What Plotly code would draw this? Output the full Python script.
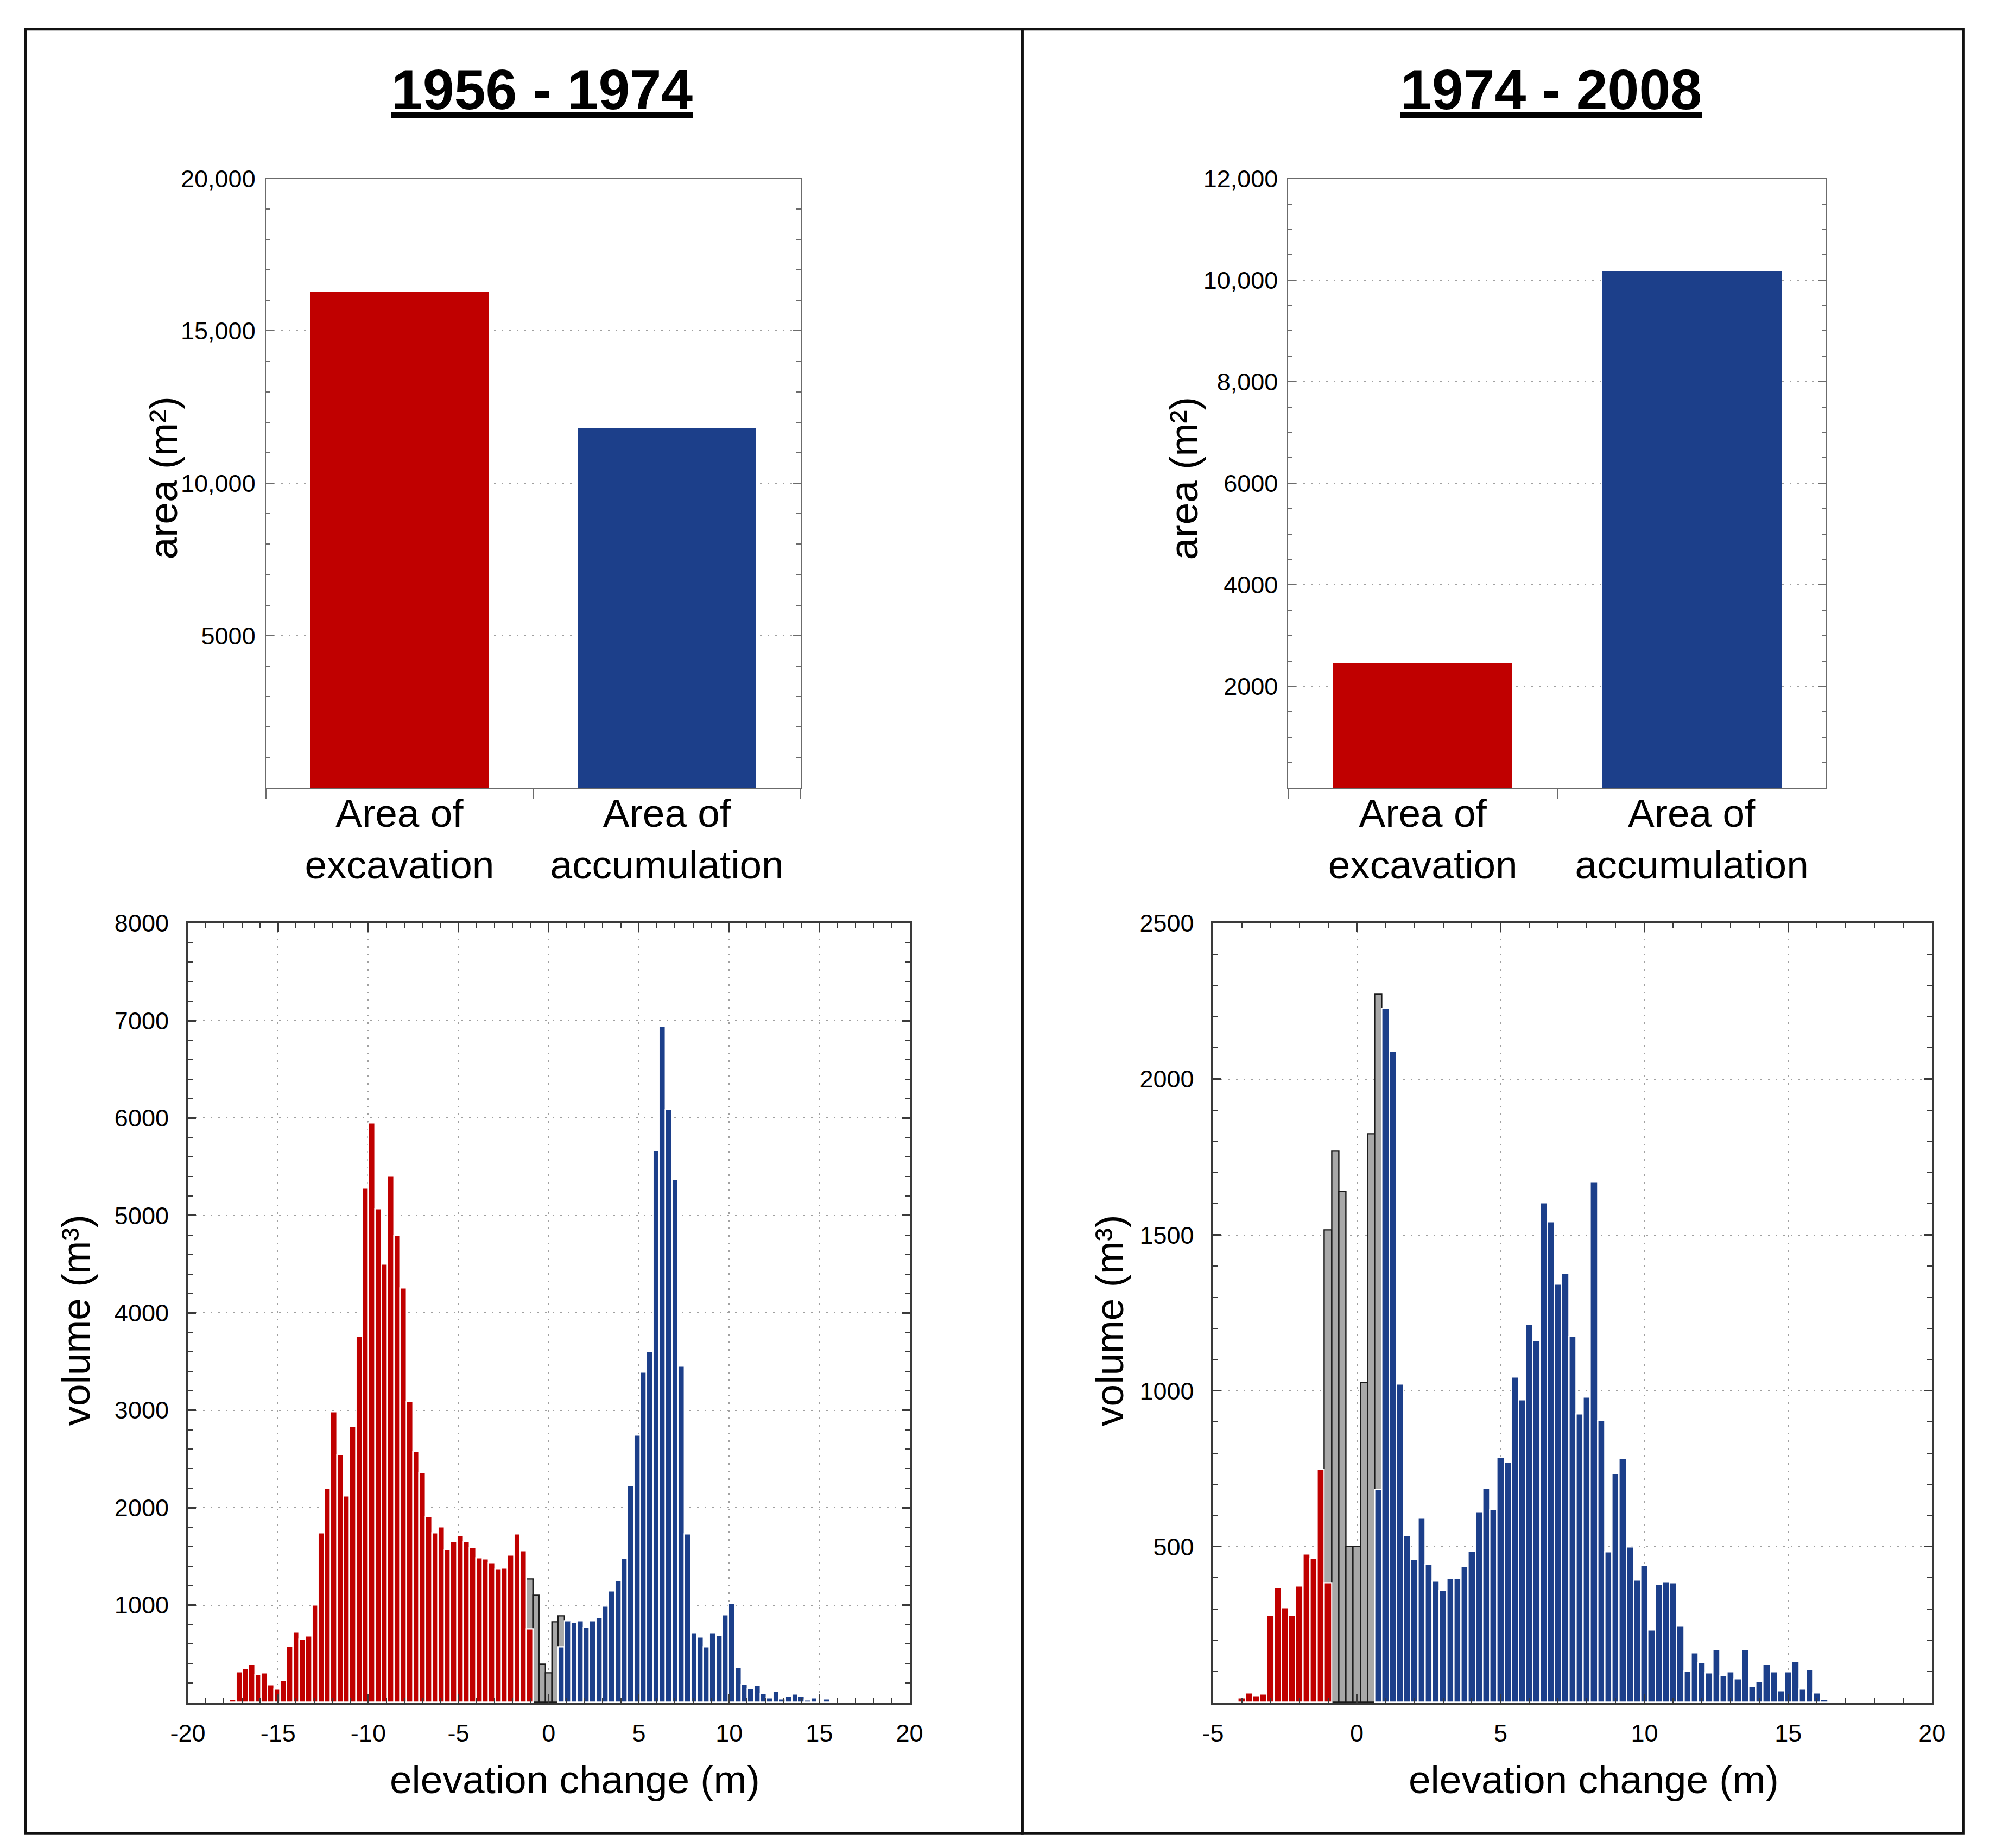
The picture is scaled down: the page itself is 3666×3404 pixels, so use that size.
import plotly.graph_objects as go

W, H = 3666, 3404

# ---- data ----
periods = ["1956 - 1974", "1974 - 2008"]
area_labels = ["Area of<br>excavation", "Area of<br>accumulation"]
area_5674 = [16300, 11800]
area_7408 = [2450, 10170]

# 1956-1974 volume histogram, bins of 0.35 m (first bar centre given)
bin_width_5674 = 0.35
red_start_5674 = -17.5
red_vol_5674 = [30, 315, 349, 391, 286, 303, 181, 134, 227, 576, 723, 651, 681, 1000,
                1739, 2197, 2983, 2546, 2118, 2832, 3761, 5282, 5950, 5071, 4500, 5403,
                4794, 4256, 3088, 2576, 2361, 1908, 1739, 1803, 1571, 1651, 1714, 1651,
                1592, 1487, 1471, 1437, 1366, 1378, 1513, 1731, 1555, 756]
gray_start_5674 = -1.05
gray_vol_5674 = [1269, 1100, 390, 305, 825, 890]
blue_start_5674 = 0.7
blue_vol_5674 = [573, 840, 822, 840, 770, 840, 873, 990, 1145, 1249, 1479, 2225, 2742,
                 3390, 3601, 5667, 6939, 6089, 5371, 3451, 1732, 718, 671, 573, 718, 690,
                 901, 1019, 357, 188, 141, 174, 94, 47, 113, 38, 66, 85, 66, 23, 47, 0, 33]

# 1974-2008 volume histogram, bins of 0.25 m
bin_width_7408 = 0.25
red_start_7408 = -4.0
red_vol_7408 = [15, 30, 21, 27, 279, 369, 303, 279, 373, 477, 462, 748, 383]
gray_start_7408 = -1.0
gray_vol_7408 = [1516, 1768, 1640, 500, 500, 1026, 1824, 2271]
blue_start_7408 = 0.75
blue_vol_7408 = [683, 2227, 2089, 1021, 535, 459, 591, 443, 389, 360, 398, 398, 436, 485,
                 611, 687, 619, 786, 771, 1044, 971, 1213, 1161, 1603, 1542, 1341, 1376,
                 1175, 925, 980, 1670, 905, 483, 734, 782, 498, 393, 440, 232, 379, 388,
                 383, 246, 100, 160, 128, 95, 170, 86, 99, 76, 170, 52, 67, 122, 99, 38,
                 99, 131, 43, 105, 30, 10]

area_ticks_5674 = [5000, 10000, 15000, 20000]
area_ticktext_5674 = ["5000", "10,000", "15,000", "20,000"]
area_ticks_7408 = [2000, 4000, 6000, 8000, 10000, 12000]
area_ticktext_7408 = ["2000", "4000", "6000", "8,000", "10,000", "12,000"]
vol_ticks_5674 = [1000, 2000, 3000, 4000, 5000, 6000, 7000, 8000]
vol_ticks_7408 = [500, 1000, 1500, 2000, 2500]
elev_ticks_5674 = [-20, -15, -10, -5, 0, 5, 10, 15, 20]
elev_ticks_7408 = [-5, 0, 5, 10, 15, 20]

RED = "#C00000"
BLUE = "#1C3F8A"
GRAY = "#A8A8A8"
FONT = "Liberation Sans, Arial, sans-serif"


def fx(p):
    return p / W


def fy(p):
    return 1 - p / H


fig = go.Figure()

# top bar charts
fig.add_trace(go.Bar(x=area_labels, y=area_5674, marker_color=[RED, BLUE],
                     marker_line_width=0, width=0.667, xaxis="x", yaxis="y"))
fig.add_trace(go.Bar(x=area_labels, y=area_7408, marker_color=[RED, BLUE],
                     marker_line_width=0, width=0.667, xaxis="x2", yaxis="y2"))

# histograms: grey (below detection limit) drawn first, red/blue on top
for ax, dx, series in [
    ("3", bin_width_5674, [(gray_start_5674, gray_vol_5674, GRAY, "#1a1a1a"),
                           (red_start_5674, red_vol_5674, RED, "white"),
                           (blue_start_5674, blue_vol_5674, BLUE, "white")]),
    ("4", bin_width_7408, [(gray_start_7408, gray_vol_7408, GRAY, "#1a1a1a"),
                           (red_start_7408, red_vol_7408, RED, "white"),
                           (blue_start_7408, blue_vol_7408, BLUE, "white")]),
]:
    for start, vals, col, edge in series:
        fig.add_trace(go.Bar(x0=start, dx=dx, y=vals, width=dx,
                             marker=dict(color=col, line=dict(color=edge, width=2.4)),
                             xaxis="x" + ax, yaxis="y" + ax))

tick_font = dict(family=FONT, size=45, color="black")
bar_line = "#6b6b6b"
hist_line = "#3a3a3a"
grid = dict(showgrid=True, gridcolor="#a0a0a0", griddash="3px,11px", gridwidth=2)


def bar_x(dom, yname):
    return dict(domain=dom, anchor=yname, showline=True, linecolor=bar_line, linewidth=2,
                mirror=True, ticks="outside", tickson="boundaries", ticklen=18,
                tickcolor=bar_line, tickwidth=2, showgrid=False, ticklabelstandoff=-18,
                tickfont=dict(family=FONT, size=73, color="black"))


def bar_y(dom, xname, rng, vals, text, minor):
    return dict(domain=dom, anchor=xname, range=rng, tickvals=vals, ticktext=text,
                showline=True, linecolor=bar_line, linewidth=2, mirror="ticks",
                ticks="inside", ticklen=14, tickwidth=2, tickcolor=bar_line,
                minor=dict(ticks="inside", dtick=minor, tick0=0, ticklen=8,
                           tickcolor=bar_line, tickwidth=2),
                zeroline=False, tickfont=tick_font, ticklabelstandoff=8, **grid)


def hist_axis(dom, other, rng, vals, minor):
    return dict(domain=dom, anchor=other, range=rng, tickvals=vals,
                ticktext=[str(v) for v in vals], showline=True, linecolor=hist_line,
                linewidth=4, mirror="ticks", ticks="inside", ticklen=15, tickwidth=3,
                tickcolor=hist_line,
                minor=dict(ticks="inside", dtick=minor, tick0=0, ticklen=9,
                           tickcolor=hist_line, tickwidth=2),
                zeroline=False, tickfont=tick_font, **grid)


def cross_ticks(over, other, rng, vals, minor, side):
    # outer half of the crossing ticks on the bottom / left axes
    return dict(overlaying=over, anchor=other, side=side, range=rng, tickvals=vals,
                showticklabels=False, ticks="outside", ticklen=15, tickwidth=3,
                tickcolor=hist_line, showline=False, showgrid=False, zeroline=False,
                minor=dict(ticks="outside", dtick=minor, tick0=0, ticklen=9,
                           tickcolor=hist_line, tickwidth=2))


fig.update_layout(
    width=W, height=H,
    margin=dict(l=0, r=0, t=0, b=0),
    paper_bgcolor="white", plot_bgcolor="white",
    barmode="overlay", bargap=0, showlegend=False,
    font=dict(family=FONT, color="black"),
    xaxis=bar_x([fx(464), fx(1465)], "y"),
    yaxis=bar_y([fy(1437), fy(306)], "x", [0, 20000], area_ticks_5674,
                area_ticktext_5674, 1000),
    xaxis2=bar_x([fx(2378), fx(3385)], "y2"),
    yaxis2=bar_y([fy(1437), fy(306)], "x2", [0, 12000], area_ticks_7408,
                 area_ticktext_7408, 500),
    xaxis3=hist_axis([fx(318), fx(1669)], "y3", [-20, 20], elev_ticks_5674, 1),
    yaxis3=hist_axis([fy(3134), fy(1688)], "x3", [0, 8000], vol_ticks_5674, 200),
    xaxis4=hist_axis([fx(2237), fx(3583)], "y4", [-5, 20], elev_ticks_7408, 1),
    yaxis4=hist_axis([fy(3134), fy(1688)], "x4", [0, 2500], vol_ticks_7408, 100),
    xaxis5=cross_ticks("x3", "y3", [-20, 20], elev_ticks_5674, 1, "bottom"),
    yaxis5=cross_ticks("y3", "x3", [0, 8000], vol_ticks_5674, 200, "left"),
    xaxis6=cross_ticks("x4", "y4", [-5, 20], elev_ticks_7408, 1, "bottom"),
    yaxis6=cross_ticks("y4", "x4", [0, 2500], vol_ticks_7408, 100, "left"),
)
fig.update_layout(yaxis3_ticklabelstandoff=22, yaxis4_ticklabelstandoff=22,
                  xaxis3_ticklabelstandoff=14, xaxis4_ticklabelstandoff=14)

# panel frames
for x0, x1 in [(14, 1880), (1880, 3642)]:
    fig.add_shape(type="rect", xref="paper", yref="paper", x0=fx(x0), x1=fx(x1),
                  y0=fy(3377), y1=fy(29), line=dict(color="#111111", width=5))

title_font = dict(family=FONT, size=104, color="black", weight="bold",
                  lineposition="under")
label_font = dict(family=FONT, size=73, color="black")
notes = [
    (981, 141, periods[0], title_font, 0),
    (2870, 141, periods[1], title_font, 0),
    (272, 862, "area (m\u00b2)", label_font, -90),
    (2182, 862, "area (m\u00b2)", label_font, -90),
    (108, 2425, "volume (m\u00b3)", label_font, -90),
    (2042, 2425, "volume (m\u00b3)", label_font, -90),
    (1043, 3277, "elevation change (m)", label_font, 0),
    (2950, 3277, "elevation change (m)", label_font, 0),
]
for x, y, text, font, angle in notes:
    fig.add_annotation(x=fx(x), y=fy(y), xref="paper", yref="paper", text=text,
                       showarrow=False, font=font, textangle=angle,
                       xanchor="center", yanchor="middle")

fig.write_html("out.html", config={"displayModeBar": False},
               post_script="document.body.style.margin='0';document.body.style.overflow='hidden';")
